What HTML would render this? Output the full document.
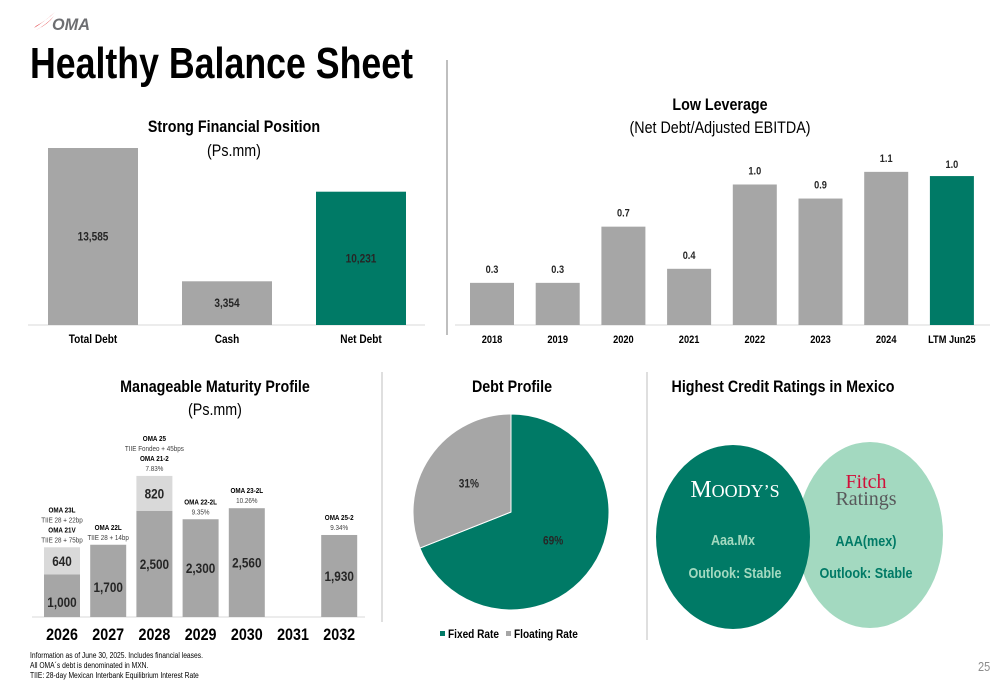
<!DOCTYPE html>
<html><head><meta charset="utf-8"><style>
body{margin:0;background:#fff}
svg{display:block;font-family:"Liberation Sans Narrow","Liberation Sans",Arial,sans-serif}
.b{font-weight:bold}
</style></head><body>
<svg id="s" width="1000" height="685" viewBox="0 0 1000 685" xmlns="http://www.w3.org/2000/svg">
<g>
<path d="M34 28 Q44 22 55 12 Q47 20 36 26Z" fill="#e03a3e"/>
<path d="M36 30 Q46 25 54 16 Q48 24 38 29Z" fill="#e03a3e"/>
<text x="52" y="30" font-size="17" font-weight="bold" font-style="italic" fill="#6d6e71" textLength="38" lengthAdjust="spacingAndGlyphs">OMA</text>
</g>
<text x="30" y="78" font-size="44" class="b" fill="#000" textLength="383" lengthAdjust="spacingAndGlyphs">Healthy Balance Sheet</text>
<line x1="447" y1="60" x2="447" y2="335" stroke="#7f7f7f" stroke-width="1"/>
<line x1="382" y1="372" x2="382" y2="622" stroke="#bfbfbf" stroke-width="1"/>
<line x1="647" y1="372" x2="647" y2="640" stroke="#bfbfbf" stroke-width="1"/>

<text x="234" y="132" font-size="17" class="b" text-anchor="middle">Strong Financial Position</text>
<text x="234" y="156" font-size="17" text-anchor="middle">(Ps.mm)</text>
<g id="c1"></g>

<text x="720" y="110" font-size="17" class="b" text-anchor="middle">Low Leverage</text>
<text x="720" y="133" font-size="17" text-anchor="middle">(Net Debt/Adjusted EBITDA)</text>
<g id="c2"></g>

<text x="215" y="392" font-size="17" class="b" text-anchor="middle">Manageable Maturity Profile</text>
<text x="215" y="415" font-size="17" text-anchor="middle">(Ps.mm)</text>
<g id="c3"></g>

<text x="512" y="392" font-size="17" class="b" text-anchor="middle">Debt Profile</text>
<g id="c4"></g>

<text x="783" y="392" font-size="17" class="b" text-anchor="middle">Highest Credit Ratings in Mexico</text>
<ellipse cx="870" cy="535" rx="73" ry="93" fill="#a3d9c0"/>
<ellipse cx="733" cy="537" rx="77" ry="92" fill="#007a66"/>
<text class="serif" x="735" y="497" font-family="Liberation Serif,serif" font-size="24" fill="#fff" text-anchor="middle">M<tspan font-size="18">OODY’S</tspan></text>
<text x="733" y="545" font-size="15" class="b" fill="#a3d9c0" text-anchor="middle">Aaa.Mx</text>
<text x="735" y="578" font-size="15" class="b" fill="#a3d9c0" text-anchor="middle">Outlook: Stable</text>
<text class="serif" x="866" y="488" font-family="Liberation Serif,serif" font-size="20" fill="#d0103a" text-anchor="middle">Fitch</text>
<text class="serif" x="866" y="505" font-family="Liberation Serif,serif" font-size="20" fill="#58595b" text-anchor="middle">Ratings</text>
<text x="866" y="546" font-size="15" class="b" fill="#007a66" text-anchor="middle">AAA(mex)</text>
<text x="866" y="578" font-size="15" class="b" fill="#007a66" text-anchor="middle">Outlook: Stable</text>

<g font-size="8" fill="#000">
<text x="30" y="658">Information as of June 30, 2025. Includes financial leases.</text>
<text x="30" y="668">All OMA´s debt is denominated in MXN.</text>
<text x="30" y="678">TIIE: 28-day Mexican Interbank Equilibrium Interest Rate</text>
</g>
<text x="978" y="671" font-size="13" fill="#8c8c8c">25</text>
</svg>
<script>
const NS="http://www.w3.org/2000/svg";
function mk(p,t,a,txt){const e=document.createElementNS(NS,t);for(const k in a)e.setAttribute(k,a[k]);if(txt!==undefined)e.textContent=txt;p.appendChild(e);return e;}
const GRAY="#a6a6a6",GREEN="#007a66",LIGHT="#d9d9d9";

// Chart 1
const c1Cats=["Total Debt","Cash","Net Debt"];
const c1Vals=[13585,3354,10231];
const c1Labels=["13,585","3,354","10,231"];
// Chart 2
const c2Cats=["2018","2019","2020","2021","2022","2023","2024","LTM Jun25"];
const c2Vals=[0.3,0.3,0.7,0.4,1.0,0.9,1.09,1.06];
const c2Labels=["0.3","0.3","0.7","0.4","1.0","0.9","1.1","1.0"];
// Chart 3
const c3Cats=["2026","2027","2028","2029","2030","2031","2032"];
const c3Base=[1000,1700,2500,2300,2560,0,1930];
const c3Top=[640,0,820,0,0,0,0];
// Chart 4
const pieCats=["Fixed Rate","Floating Rate"];
const pieVals=[69,31];

(function(){
 const g=document.getElementById('c1');const base=325,sc=177/13585,x0=48,step=134,w=90;
 mk(g,'line',{x1:28,x2:425,y1:base,y2:base,stroke:"#d9d9d9"});
 c1Vals.forEach((v,i)=>{const h=v*sc,x=x0+i*step;
  const r=mk(g,'rect',{x:x,y:base-h,width:w,height:h,fill:i==2?GREEN:GRAY});
  
  
  const t=mk(g,'text',{x:x+w/2,y:base-h/2+4,"font-size":12,"font-weight":"bold","text-anchor":"middle",fill:"#262626"},c1Labels[i]);
  
  const c=mk(g,'text',{x:x+w/2,y:343,"font-size":12,"font-weight":"bold","text-anchor":"middle"},c1Cats[i]);
  
 });
})();
(function(){
 const g=document.getElementById('c2');const base=325,sc=140.5,x0=470,step=65.7,w=44;
 mk(g,'line',{x1:455,x2:990,y1:base,y2:base,stroke:"#d9d9d9"});
 c2Vals.forEach((v,i)=>{const h=v*sc,x=x0+i*step;
  const r=mk(g,'rect',{x:x,y:base-h,width:w,height:h,fill:i==7?GREEN:GRAY});
  
  
  const t=mk(g,'text',{x:x+w/2,y:base-h-(i==7?8:10),"font-size":11,"font-weight":"bold","text-anchor":"middle",fill:"#262626"},c2Labels[i]);
  
  const c=mk(g,'text',{x:x+w/2,y:343,"font-size":11,"font-weight":"bold","text-anchor":"middle"},c2Cats[i]);
  
 });
})();
(function(){
 const g=document.getElementById('c3');const base=617,sc=0.0425,x0=44,step=46.2,w=36;
 mk(g,'line',{x1:32,x2:365,y1:base,y2:base,stroke:"#d9d9d9"});
 const notes=[[["OMA 23L",1],["TIIE 28 + 22bp",0],["OMA 21V",1],["TIIE 28 + 75bp",0]],[["OMA 22L",1],["TIIE 28 + 14bp",0]],[["OMA 25",1],["TIIE Fondeo + 45bps",0],["OMA 21-2",1],["7.83%",0]],[["OMA 22-2L",1],["9.35%",0]],[["OMA 23-2L",1],["10.26%",0]],[],[["OMA 25-2",1],["9.34%",0]]];
 c3Cats.forEach((cat,i)=>{const x=x0+i*step,hb=c3Base[i]*sc,ht=c3Top[i]*sc;
  if(hb>0){const r=mk(g,'rect',{x:x,y:base-hb,width:w,height:hb,fill:GRAY});
   
   const t=mk(g,'text',{x:x+w/2,y:base-hb/2+(i==0?6:i==1?6:0)+5,"font-size":14,"font-weight":"bold","text-anchor":"middle",fill:"#262626"},c3Base[i].toLocaleString('en-US'));
   }
  if(ht>0){const r=mk(g,'rect',{x:x,y:base-hb-ht,width:w,height:ht,fill:LIGHT});
   
   const t=mk(g,'text',{x:x+w/2,y:base-hb-ht/2+5,"font-size":14,"font-weight":"bold","text-anchor":"middle",fill:"#262626"},String(c3Top[i]));
   }
  const top=base-hb-ht;const n=notes[i];
  n.forEach((ln,j)=>{const t=mk(g,'text',{x:x+w/2,y:top-5-(n.length-1-j)*10,"font-size":7.5,"font-weight":ln[1]?"bold":"normal","text-anchor":"middle",fill:ln[1]?"#000":"#404040"},ln[0]);
   });
  const c=mk(g,'text',{x:x+w/2,y:640,"font-size":17,"font-weight":"bold","text-anchor":"middle"},cat);
  
 });
})();
(function(){
 const g=document.getElementById('c4');const cx=511,cy=512,r=98;const tot=pieVals.reduce((a,b)=>a+b,0);
 let a=-Math.PI/2;const cols=[GREEN,GRAY];
 pieVals.forEach((v,i)=>{const a2=a+v/tot*2*Math.PI;const large=(a2-a)>Math.PI?1:0;
  const p=mk(g,'path',{d:`M${cx},${cy}L${cx+r*Math.cos(a)},${cy+r*Math.sin(a)}A${r},${r} 0 ${large} 1 ${cx+r*Math.cos(a2)},${cy+r*Math.sin(a2)}Z`,fill:cols[i],stroke:"#fff","stroke-width":1});
  
  const m=(a+a2)/2;const t=mk(g,'text',{x:cx+0.52*r*Math.cos(m),y:cy+0.52*r*Math.sin(m)+4,"font-size":12,"font-weight":"bold","text-anchor":"middle",fill:"#262626"},v+"%");
  
  a=a2;});
 let lx=440;pieCats.forEach((c,i)=>{
  const s=mk(g,'rect',{x:lx,y:631,width:5,height:5,fill:cols[i]});
  const t=mk(g,'text',{x:lx+8,y:638,"font-size":12,"font-weight":"bold"},c);
  lx+=66;});
})();
// emulate narrow font
document.querySelectorAll('#s text').forEach(t=>{
 if(t.hasAttribute('textLength')||t.classList.contains('serif'))return;
 const L=t.getComputedTextLength();
 if(L>0){t.setAttribute('textLength',(L*0.84).toFixed(1));t.setAttribute('lengthAdjust','spacingAndGlyphs');}
});
</script>
</body></html>
